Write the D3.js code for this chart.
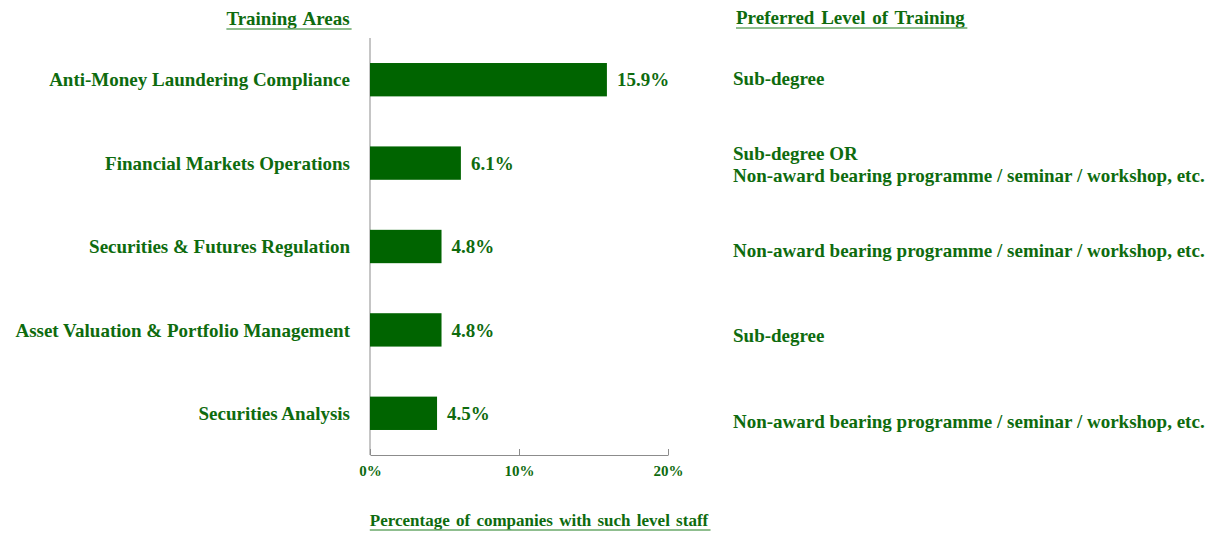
<!DOCTYPE html>
<head>
  <meta charset="utf-8">
  <script src="https://cdnjs.cloudflare.com/ajax/libs/d3/7.8.5/d3.min.js"></script>
</head>
<style>
  body { margin: 0; background: #fff; }
  text { font-family: "Liberation Serif", "Times New Roman", serif; font-weight: bold; fill: #0e6b0e; }
  .axis path, .axis line { stroke: #8c8c8c; }
</style>
<body>
  <svg width="1224" height="534" class="chart"></svg>
  <script>
  const areas = ["Anti-Money Laundering Compliance", "Financial Markets Operations",
    "Securities & Futures Regulation", "Asset Valuation & Portfolio Management", "Securities Analysis"];
  const shares = [15.9, 6.1, 4.8, 4.8, 4.5];
  const levels = [
    ["Sub-degree"],
    ["Sub-degree OR", "Non-award bearing programme / seminar / workshop, etc."],
    ["Non-award bearing programme / seminar / workshop, etc."],
    ["Sub-degree"],
    ["Non-award bearing programme / seminar / workshop, etc."]
  ];
  const xTicks = [0, 10, 20];

  let svg = d3.select(".chart");

  let x = d3.scaleLinear().domain([0, 20]).range([370, 668]);
  let y = d3.scaleBand().domain(areas).range([38, 455]).paddingInner(0.6).paddingOuter(0.3);
  let yRight = d3.scaleBand().domain(areas).range([36, 464]);

  // x axis, ticks pointing up
  let xAxis = svg.append("g")
      .attr("class", "axis")
      .attr("transform", "translate(0,455)")
      .call(d3.axisBottom(x).tickValues(xTicks).tickSize(-6).tickSizeOuter(0).tickFormat(d => d + "%"));
  xAxis.selectAll("text").attr("dy", null).attr("y", 21).style("font-size", "15px");

  svg.append("line")
      .attr("x1", x(0)).attr("x2", x(0)).attr("y1", 38).attr("y2", 455)
      .attr("stroke", "#8c8c8c");

  svg.selectAll(".bar")
    .data(areas)
    .enter().append("rect")
      .attr("class", "bar")
      .attr("x", x(0))
      .attr("y", d => y(d))
      .attr("width", (d, i) => x(shares[i]) - x(0))
      .attr("height", y.bandwidth())
      .attr("fill", "#006400");

  svg.selectAll(".val")
    .data(areas)
    .enter().append("text")
      .attr("x", (d, i) => x(shares[i]) + 10)
      .attr("y", d => y(d) + y.bandwidth() / 2)
      .attr("dy", "0.35em")
      .style("font-size", "19px")
      .text((d, i) => shares[i].toFixed(1) + "%");

  svg.selectAll(".cat")
    .data(areas)
    .enter().append("text")
      .attr("x", 350)
      .attr("y", d => y(d) + y.bandwidth() / 2)
      .attr("dy", "0.35em")
      .attr("text-anchor", "end")
      .style("font-size", "19px")
      .text(d => d);

  // preferred level column
  svg.selectAll(".lvl")
    .data(areas)
    .enter().append("text")
      .attr("x", 733)
      .attr("y", d => yRight(d) + yRight.bandwidth() / 2)
      .style("font-size", "19px")
      .each(function(d, i) {
        let lines = levels[i];
        let t = d3.select(this);
        lines.forEach((l, j) => {
          t.append("tspan")
            .attr("x", 733)
            .attr("dy", j == 0 ? (0.35 - (lines.length - 1) * 0.6) + "em" : "1.2em")
            .text(l);
        });
      });

  function title(txt, cx, cy, size, anchor) {
    let t = svg.append("text")
        .attr("x", cx).attr("y", cy)
        .attr("text-anchor", anchor)
        .style("font-size", size + "px")
        .style("word-spacing", "2px")
        .text(txt);
    let b = t.node().getBBox();
    svg.append("line")
        .attr("x1", b.x).attr("x2", b.x + b.width + 2)
        .attr("y1", cy + 4).attr("y2", cy + 4)
        .attr("stroke", "#6aa86a").attr("stroke-width", 1.5);
  }
  title("Training Areas", 288, 25, 19, "middle");
  title("Preferred Level of Training", 736, 24, 19, "start");
  title("Percentage of companies with such level staff", 539, 526, 17, "middle");
  </script>
</body>
</html>
